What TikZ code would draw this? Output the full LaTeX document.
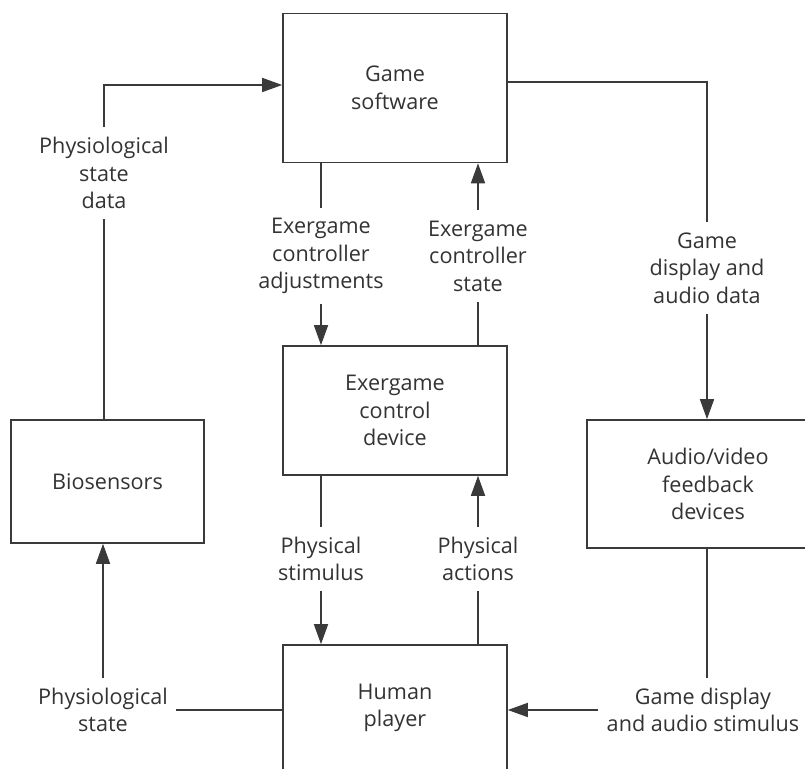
\documentclass[tikz,border=0pt]{standalone}
\usepackage{fontspec}
\setmainfont{Open Sans}
\usetikzlibrary{arrows.meta,calc}
\definecolor{ink}{HTML}{3A3A3A}
\definecolor{txt}{HTML}{333333}
\begin{document}
\begin{tikzpicture}[x=0.5pt,y=-0.5pt,
 box/.style={draw=ink,line width=0.8pt,rectangle,align=center,text=txt,font=\fontsize{10.8}{13.75}\selectfont,inner sep=0pt},
 lbl/.style={align=center,text=txt,font=\fontsize{10.8}{13.75}\selectfont,inner xsep=4pt,inner ysep=5pt},
 conn/.style={draw=ink,line width=0.8pt},
 arr/.style={conn,-{Triangle[length=10pt,width=7pt]}}]
\useasboundingbox (0,0) rectangle (805,769);
\fill[white] (0,0) rectangle (805,769);
\clip (0,0) rectangle (805,769);
% boxes
\node[box,minimum width=112pt,minimum height=74.5pt] (gs) at (395,88) {Game\\software};
\node[box,minimum width=112pt,minimum height=64.5pt] (ecd) at (395,410.5) {Exergame\\control\\device};
\node[box,minimum width=96.5pt,minimum height=61.5pt] (bio) at (107.5,481.5) {Biosensors};
\node[box,minimum width=121pt,minimum height=64pt] (av) at (708,484) {Audio/video\\feedback\\devices};
\node[box,minimum width=112pt,minimum height=63pt] (hp) at (395,708) {Human\\player};
% labels
\node[lbl] (psd) at (104,173) {Physiological\\state\\data};
\node[lbl] (adj) at (321,256) {Exergame\\controller\\adjustments};
\node[lbl] (ecs) at (478,256) {Exergame\\controller\\state};
\node[lbl] (gdad) at (707,268) {Game\\display and\\audio data};
\node[lbl] (pst) at (321,559) {Physical\\stimulus};
\node[lbl] (pac) at (478,559) {Physical\\actions};
\node[lbl] (ps) at (103,710) {Physiological\\state};
\node[lbl] (gdas) at (703,710) {Game display\\and audio stimulus};
% connectors
\draw[conn] (bio.north -| psd) -- (psd.south);
\draw[arr] (psd.north) |- ([yshift=1.5pt]gs.west);
\draw[conn] (gs.south -| adj) -- (adj.north);
\draw[arr] (adj.south) -- (adj.south |- ecd.north);
\draw[arr] (ecs.north) -- (ecs.north |- gs.south);
\draw[conn] (ecd.north -| ecs) -- (ecs.south);
\draw[conn] ([yshift=3pt]gs.east) -| (gdad.north);
\draw[arr] (gdad.south) -- (gdad.south |- av.north);
\draw[conn] (ecd.south -| pst) -- (pst.north);
\draw[arr] (pst.south) -- (pst.south |- hp.north);
\draw[conn] (hp.north -| pac) -- (pac.south);
\draw[arr] (pac.north) -- (pac.north |- ecd.south);
\draw[arr] (ps.north) -- (ps.north |- bio.south);
\draw[conn] (ps.east) -- (ps.east -| hp.west);
\draw[conn] (av.south -| gdad) -- (gdas.north -| gdad);
\draw[arr] (gdas.west) -- (gdas.west -| hp.east);
\end{tikzpicture}
\end{document}
